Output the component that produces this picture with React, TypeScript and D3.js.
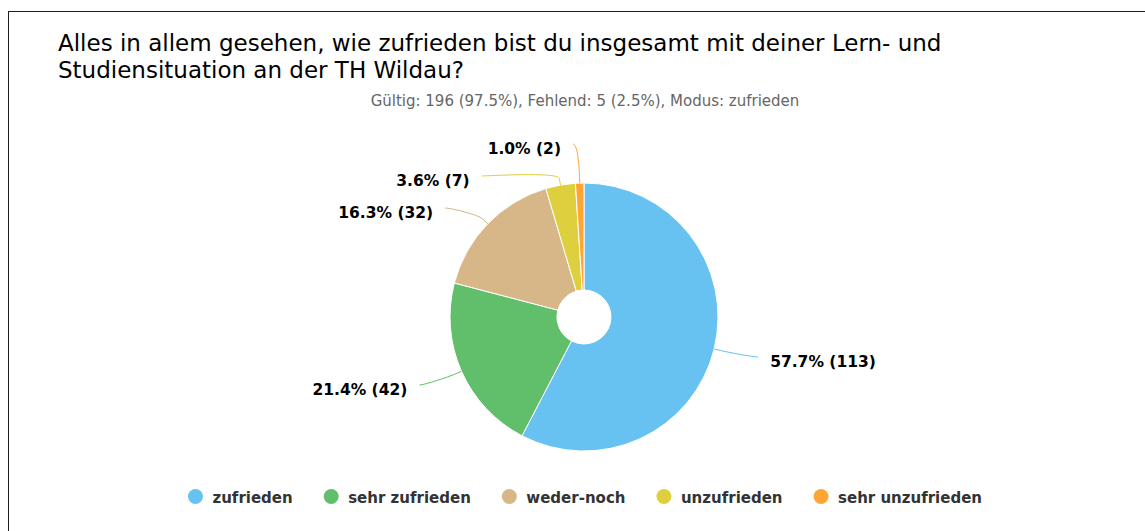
import React, { useMemo } from 'react';
import * as d3 from 'd3';

const categories = ['zufrieden', 'sehr zufrieden', 'weder-noch', 'unzufrieden', 'sehr unzufrieden'];
const counts = [113, 42, 32, 7, 2];
const colors = ['#67c1f1', '#61bf6b', '#d7b687', '#ddcf3e', '#ffa534'];
const titleLines = [
  'Alles in allem gesehen, wie zufrieden bist du insgesamt mit deiner Lern- und',
  'Studiensituation an der TH Wildau?',
];
const subtitle = 'Gültig: 196 (97.5%), Fehlend: 5 (2.5%), Modus: zufrieden';

const W = 1145;
const H = 531;
const FONT = '"DejaVu Sans", Verdana, sans-serif';
const cx = 584;
const cy = 317;
const R = 134;
const R0 = 27;
const labelDist = 34;
const labelPad = 11;
const textGap = 12;
const labelH = 32;
const plotTop = 128;
const plotBottom = 480;

type Item = { idx: number; target: number; pos?: number };

function distribute(items: Item[], min: number, max: number, size: number) {
  const sorted = [...items].sort((a, b) => a.target - b.target);
  let clusters: { m: Item[]; s: number }[] = sorted.map((it) => ({ m: [it], s: it.target }));
  const place = (c: { m: Item[]; s: number }) => {
    const mean = d3.mean(c.m, (d) => d.target) as number;
    let s = mean - ((c.m.length - 1) * size) / 2;
    s = Math.min(s, max - size / 2 - (c.m.length - 1) * size);
    s = Math.max(s, min + size / 2);
    c.s = s;
  };
  let changed = true;
  while (changed) {
    changed = false;
    clusters.forEach(place);
    for (let i = 1; i < clusters.length; i++) {
      const p = clusters[i - 1];
      const c = clusters[i];
      if (p.s + p.m.length * size > c.s + 1e-9) {
        p.m = p.m.concat(c.m);
        clusters.splice(i, 1);
        changed = true;
        break;
      }
    }
  }
  clusters.forEach((c) => c.m.forEach((it, j) => (it.pos = c.s + j * size)));
  return sorted;
}

function measure(text: string, font: string) {
  const canvas = document.createElement('canvas');
  const ctx = canvas.getContext('2d');
  if (!ctx) return text.length * 9;
  ctx.font = font;
  return ctx.measureText(text).width;
}

export default function App() {
  const total = d3.sum(counts);
  const arcs = d3.pie<number>().sort(null).value((d) => d).startAngle(0).endAngle(2 * Math.PI)(counts);
  const arcGen = d3.arc<d3.PieArcDatum<number>>().innerRadius(R0).outerRadius(R);

  const labels = useMemo(() => {
    const Rl = R + labelDist;
    const info = arcs.map((a, i) => {
      const mid = (a.startAngle + a.endAngle) / 2;
      const sx = Math.sin(mid);
      const sy = -Math.cos(mid);
      return { i, mid, sx, sy, left: sx < 0, natY: cy + sy * Rl, y: 0 };
    });
    [true, false].forEach((side) => {
      const items: Item[] = info.filter((d) => d.left === side).map((d) => ({ idx: d.i, target: d.natY }));
      distribute(items, plotTop, plotBottom, labelH).forEach((it) => {
        info[it.idx].y = it.pos as number;
      });
    });
    const off = labelDist / 5;
    return info.map((d) => {
      const dy = d.y - cy;
      const ang = Math.asin(Math.max(-1, Math.min(1, dy / Rl)));
      const sign = d.left ? -1 : 1;
      const lx = cx + sign * (Math.cos(ang) * Rl + labelPad);
      const ly = d.y;
      const tx = cx + d.sx * R;
      const ty = cy + d.sy * R;
      const bx = cx + d.sx * (R + off);
      const by = cy + d.sy * (R + off);
      const path = `M${lx},${ly} C${lx + (d.left ? 5 : -5)},${ly} ${2 * bx - tx},${2 * by - ty} ${bx},${by} L${tx},${ty}`;
      const pct = ((counts[d.i] / total) * 100).toFixed(1);
      return {
        i: d.i,
        path,
        textX: lx + sign * textGap,
        textY: ly + 10,
        anchor: d.left ? 'end' : 'start',
        text: `${pct}% (${counts[d.i]})`,
      };
    });
  }, []);

  const legend = useMemo(() => {
    const font = `bold 15px ${FONT}`;
    const widths = categories.map((c) => measure(c, font));
    const r = 7.5;
    const toText = 17;
    const gapAfter = 38.5;
    let totalW = r;
    widths.forEach((w, i) => {
      totalW += toText + w + (i < widths.length - 1 ? gapAfter : 0);
    });
    const start = 585 - totalW / 2;
    let c = start + r;
    return categories.map((cat, i) => {
      const item = { cat, cx: c, tx: c + toText, color: colors[i] };
      c = c + toText + widths[i] + gapAfter;
      return item;
    });
  }, []);

  return (
    <div style={{ position: 'fixed', left: 0, top: 0, width: W, height: H, overflow: 'hidden', background: '#fff' }}>
      <svg width={W} height={H} style={{ display: 'block', fontFamily: FONT }}>
        <rect x={8.5} y={11.5} width={1300} height={700} fill="#fff" stroke="#1e1e1e" strokeWidth={1} />
        {titleLines.map((t, i) => (
          <text key={i} x={58} y={51 + i * 27} fontSize={23} fill="#000">
            {t}
          </text>
        ))}
        <text x={585} y={106} fontSize={15} fill="#666" textAnchor="middle">
          {subtitle}
        </text>
        <g transform={`translate(${cx},${cy})`}>
          {arcs.map((a, i) => (
            <path key={i} d={arcGen(a) as string} fill={colors[i]} stroke="#fff" strokeWidth={1} />
          ))}
        </g>
        {labels.map((l) => (
          <g key={l.i}>
            <path d={l.path} fill="none" stroke={colors[l.i]} strokeWidth={1} />
            <text x={l.textX} y={l.textY} textAnchor={l.anchor as any} fontSize={15.5} fontWeight="bold" fill="#000">
              {l.text}
            </text>
          </g>
        ))}
        {legend.map((l) => (
          <g key={l.cat}>
            <circle cx={l.cx} cy={496.5} r={7.5} fill={l.color} />
            <text x={l.tx} y={503} fontSize={15} fontWeight="bold" fill="#333">
              {l.cat}
            </text>
          </g>
        ))}
      </svg>
    </div>
  );
}
